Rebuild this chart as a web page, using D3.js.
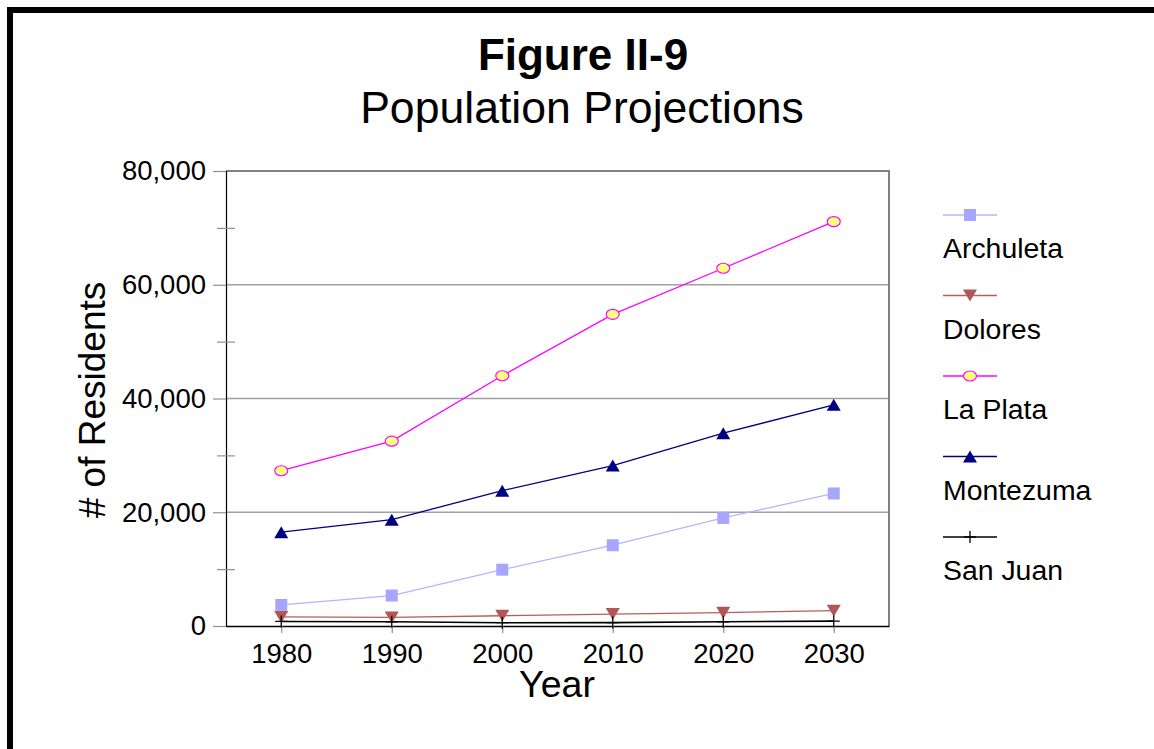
<!DOCTYPE html>
<html>
<head>
<meta charset="utf-8">
<script src="https://cdn.jsdelivr.net/npm/d3@7"></script>
<style>
  body { margin: 0; background: #fff; }
  svg { display: block; font-family: "Liberation Sans", Arial, sans-serif; }
</style>
</head>
<body>
<svg id="chart"></svg>
<script>
// DATA
const years = [1980, 1990, 2000, 2010, 2020, 2030];
const seriesNames = ["Archuleta", "Dolores", "La Plata", "Montezuma", "San Juan"];
const archuleta = [3700, 5350, 9900, 14200, 19000, 23300];
const dolores = [1600, 1500, 1800, 2100, 2350, 2700];
const laPlata = [27300, 32500, 44000, 54800, 62900, 71100];
const montezuma = [16500, 18700, 23800, 28200, 33900, 38900];
const sanJuan = [800, 750, 580, 600, 750, 850];
const yTicks = [0, 20000, 40000, 60000, 80000];
const yMinorTicks = [10000, 30000, 50000, 70000];

// DIMENSIONS AND CONSTANTS
const dims = { width: 1154, height: 749 };
const plot = { left: 226, right: 889, top: 171, bottom: 626 };

const svg = d3
  .select("#chart")
  .attr("width", dims.width)
  .attr("height", dims.height);

// style for each series (marker + line)
const styles = {
  Archuleta: { line: "#b4b4ff", fill: "#a6a6ff", stroke: "none", shape: "square" },
  Dolores: { line: "#b45e5c", fill: "#b05856", stroke: "none", shape: "down" },
  "La Plata": { line: "#ff00ff", fill: "#ffff80", stroke: "#ff00ff", shape: "ellipse" },
  Montezuma: { line: "#000080", fill: "#000080", stroke: "none", shape: "up" },
  "San Juan": { line: "#000000", fill: "none", stroke: "#000000", shape: "plus" },
};

const series = [archuleta, dolores, laPlata, montezuma, sanJuan].map((values, i) => ({
  name: seriesNames[i],
  values: values.map((v, j) => ({ year: years[j], value: v })),
}));

// SCALES
const x = d3
  .scalePoint()
  .domain(years)
  .range([plot.left, plot.right])
  .padding(0.5);

const y = d3
  .scaleLinear()
  .domain([0, 80000])
  .range([plot.bottom, plot.top]);

// OUTER BORDER
svg
  .append("rect")
  .attr("x", 10)
  .attr("y", 10)
  .attr("width", 1300)
  .attr("height", 900)
  .attr("fill", "none")
  .attr("stroke", "#000")
  .attr("stroke-width", 6);

// TITLES
svg
  .append("text")
  .attr("x", 583)
  .attr("y", 70)
  .attr("text-anchor", "middle")
  .attr("font-size", 44)
  .attr("font-weight", "bold")
  .text("Figure II-9");

svg
  .append("text")
  .attr("x", 582)
  .attr("y", 123)
  .attr("text-anchor", "middle")
  .attr("font-size", 44.6)
  .text("Population Projections");

// GRIDLINES
svg
  .append("g")
  .selectAll("line")
  .data(yTicks.filter((d) => d > 0 && d < 80000))
  .join("line")
  .attr("x1", plot.left)
  .attr("x2", plot.right)
  .attr("y1", (d) => y(d))
  .attr("y2", (d) => y(d))
  .attr("stroke", "#a0a0a0")
  .attr("stroke-width", 1.5);

// PLOT BORDER (top + right)
svg
  .append("path")
  .attr("d", `M${plot.left},${plot.top}H${plot.right}V${plot.bottom}`)
  .attr("fill", "none")
  .attr("stroke", "#808080")
  .attr("stroke-width", 2);

// Y AXIS
const yAxis = svg
  .append("g")
  .attr("transform", `translate(${plot.left},0)`)
  .call(
    d3.axisLeft(y)
      .tickValues(yTicks)
      .tickSize(13)
      .tickPadding(7)
      .tickFormat(d3.format(","))
  );
yAxis.select(".domain").attr("stroke", "#000").attr("stroke-width", 1.2);
yAxis.selectAll(".tick line").attr("stroke", "#909090").attr("stroke-width", 1.2);
yAxis.selectAll(".tick text").attr("font-size", 27.5).attr("fill", "#000")
  .style("font-family", "'Liberation Sans', Arial, sans-serif");

// minor ticks crossing the axis
const yMinor = svg
  .append("g")
  .attr("transform", `translate(${plot.left + 9},0)`)
  .call(d3.axisLeft(y).tickValues(yMinorTicks).tickSize(18).tickFormat(""));
yMinor.select(".domain").remove();
yMinor.selectAll(".tick line").attr("stroke", "#909090").attr("stroke-width", 1.2);

// X AXIS
const xAxis = svg
  .append("g")
  .attr("transform", `translate(0,${plot.bottom})`)
  .call(d3.axisBottom(x).tickSize(7).tickPadding(10).tickSizeOuter(0));
xAxis.select(".domain").attr("stroke", "#000").attr("stroke-width", 1.5);
xAxis.selectAll(".tick line").attr("stroke", "#909090").attr("stroke-width", 1.2);
xAxis.selectAll(".tick text").attr("font-size", 27.5).attr("fill", "#000")
  .style("font-family", "'Liberation Sans', Arial, sans-serif");

// AXIS TITLES
svg
  .append("text")
  .attr("transform", "translate(105,400) rotate(-90)")
  .attr("text-anchor", "middle")
  .attr("font-size", 37)
  .text("# of Residents");

svg
  .append("text")
  .attr("x", 557)
  .attr("y", 697)
  .attr("text-anchor", "middle")
  .attr("font-size", 37.5)
  .text("Year");

// MARKER DRAWING
function drawMarker(sel, shape, st) {
  if (shape === "square") {
    sel.append("rect").attr("x", -6).attr("y", -6).attr("width", 12).attr("height", 12)
      .attr("fill", st.fill);
  } else if (shape === "down") {
    sel.append("path").attr("d", "M-7,-6L7,-6L0,6Z").attr("fill", st.fill);
  } else if (shape === "up") {
    sel.append("path").attr("d", "M-7,6L7,6L0,-6Z").attr("fill", st.fill);
  } else if (shape === "ellipse") {
    sel.append("ellipse").attr("rx", 6.5).attr("ry", 5)
      .attr("fill", st.fill).attr("stroke", st.stroke).attr("stroke-width", 1.2);
  } else if (shape === "plus") {
    sel.append("path").attr("d", "M-6,0H6M0,-6V6")
      .attr("stroke", st.stroke).attr("stroke-width", 1.3);
  }
}

// LINES
const line = d3
  .line()
  .x((d) => x(d.year))
  .y((d) => y(d.value));

const groups = svg
  .append("g")
  .selectAll("g.series")
  .data(series)
  .join("g")
  .attr("class", "series");

groups
  .append("path")
  .attr("d", (d) => line(d.values))
  .attr("fill", "none")
  .attr("stroke", (d) => styles[d.name].line)
  .attr("stroke-width", (d) => (d.name === "San Juan" ? 1.6 : 1.3));

groups.each(function (d) {
  const st = styles[d.name];
  d3.select(this)
    .selectAll("g.marker")
    .data(d.values)
    .join("g")
    .attr("class", "marker")
    .attr("transform", (p) => `translate(${x(p.year)},${y(p.value)})`)
    .each(function () {
      drawMarker(d3.select(this), st.shape, st);
    });
});

// LEGEND
const legend = svg
  .append("g")
  .selectAll("g")
  .data(seriesNames)
  .join("g")
  .attr("transform", (d, i) => `translate(943,${215 + i * 80.5})`);

legend
  .append("line")
  .attr("x1", 0)
  .attr("x2", 54)
  .attr("stroke", (d) => styles[d].line)
  .attr("stroke-width", 1.3);

legend.each(function (d) {
  const g = d3.select(this).append("g").attr("transform", "translate(27,0)");
  drawMarker(g, styles[d].shape, styles[d]);
});

legend
  .append("text")
  .attr("y", 43)
  .attr("font-size", 28.4)
  .text((d) => d);
</script>
</body>
</html>
